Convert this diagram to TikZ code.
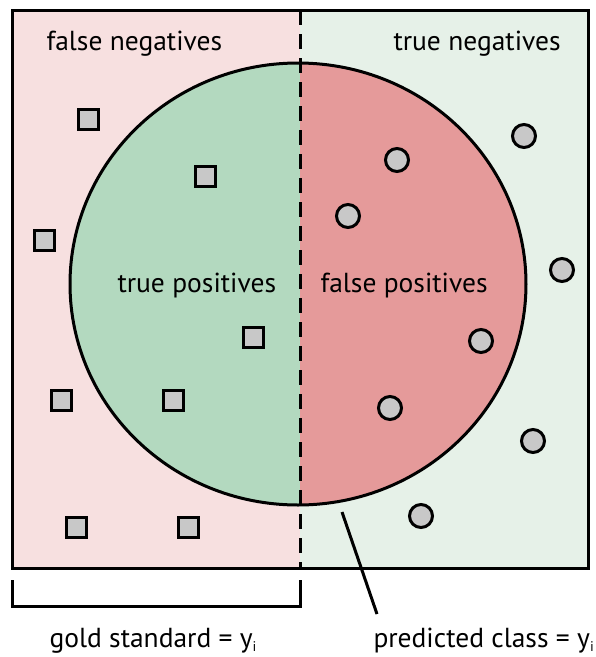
\documentclass[tikz,border=0pt]{standalone}
\usepackage{fontspec}
\setmainfont{PT Sans}

\definecolor{fnpink}{HTML}{F7E0E0}
\definecolor{tngreen}{HTML}{E6F1E8}
\definecolor{tpgreen}{HTML}{B3D9BF}
\definecolor{fpred}{HTML}{E59A9A}
\definecolor{markgray}{HTML}{C8C8C8}
\newcommand{\lowi}{\raisebox{-0.35ex}{\fontsize{14}{14}\selectfont i}}

\begin{document}
\begin{tikzpicture}
[x=1pt,y=-1pt,line width=3pt,
 sq/.style={rectangle,draw,fill=markgray,minimum size=20pt,inner sep=0pt},
 dot/.style={circle,draw,fill=markgray,minimum size=23pt,inner sep=0pt},
 lab/.style={font=\fontsize{27.5}{32}\selectfont,inner sep=0pt,anchor=base west}]
\useasboundingbox (0,0) rectangle (596,657);
\coordinate (o) at (298,284);
% background halves
\fill[fnpink] (12,10) rectangle (300,568);
\fill[tngreen] (300,10) rectangle (588,568);
\begin{scope}
\clip (0,0) rectangle (300,657);
\fill[tpgreen] (o) ellipse [x radius=228,y radius=221];
\end{scope}
\begin{scope}
\clip (300,0) rectangle (596,657);
\fill[fpred] (o) ellipse [x radius=228,y radius=221];
\end{scope}
\draw (o) ellipse [x radius=228,y radius=221];
\draw (12,10) rectangle (588,568);
\draw[dash pattern=on 15pt off 9pt] (300,10) -- (300,568);
% labels
\node[lab] (fneg) at (45,50) {false negatives};
\node[lab] (tneg) at (392,50) {true negatives};
\node[lab] (tpos) at (116,292) {true positives};
\node[lab] (fpos) at (319,292) {false positives};
\node[lab] (gold) at (48,647) {gold standard = y\lowi};
\node[lab] (pred) at (372,647) {predicted class = y\lowi};
% gold standard markers
\foreach \p/\q [count=\i] in {88/119,205/176,44/240,253/337,61/400,173/400,76/527,188/527}
\node[sq] (s\i) at (\p,\q) {};
% predicted markers
\foreach \p/\q [count=\i] in {524/136,397/160,348/216,562/270,481/341,390/408,533/441,421/516}
\node[dot] (d\i) at (\p,\q) {};
% bracket and pointer
\coordinate (gl) at (12,580);
\coordinate (gr) at (300,580);
\draw (gl) -- ++(0,26) -| (gr);
\coordinate (ptip) at (342,512);
\coordinate (ptail) at (377,614);
\draw (ptip) -- (ptail);
\end{tikzpicture}
\end{document}
